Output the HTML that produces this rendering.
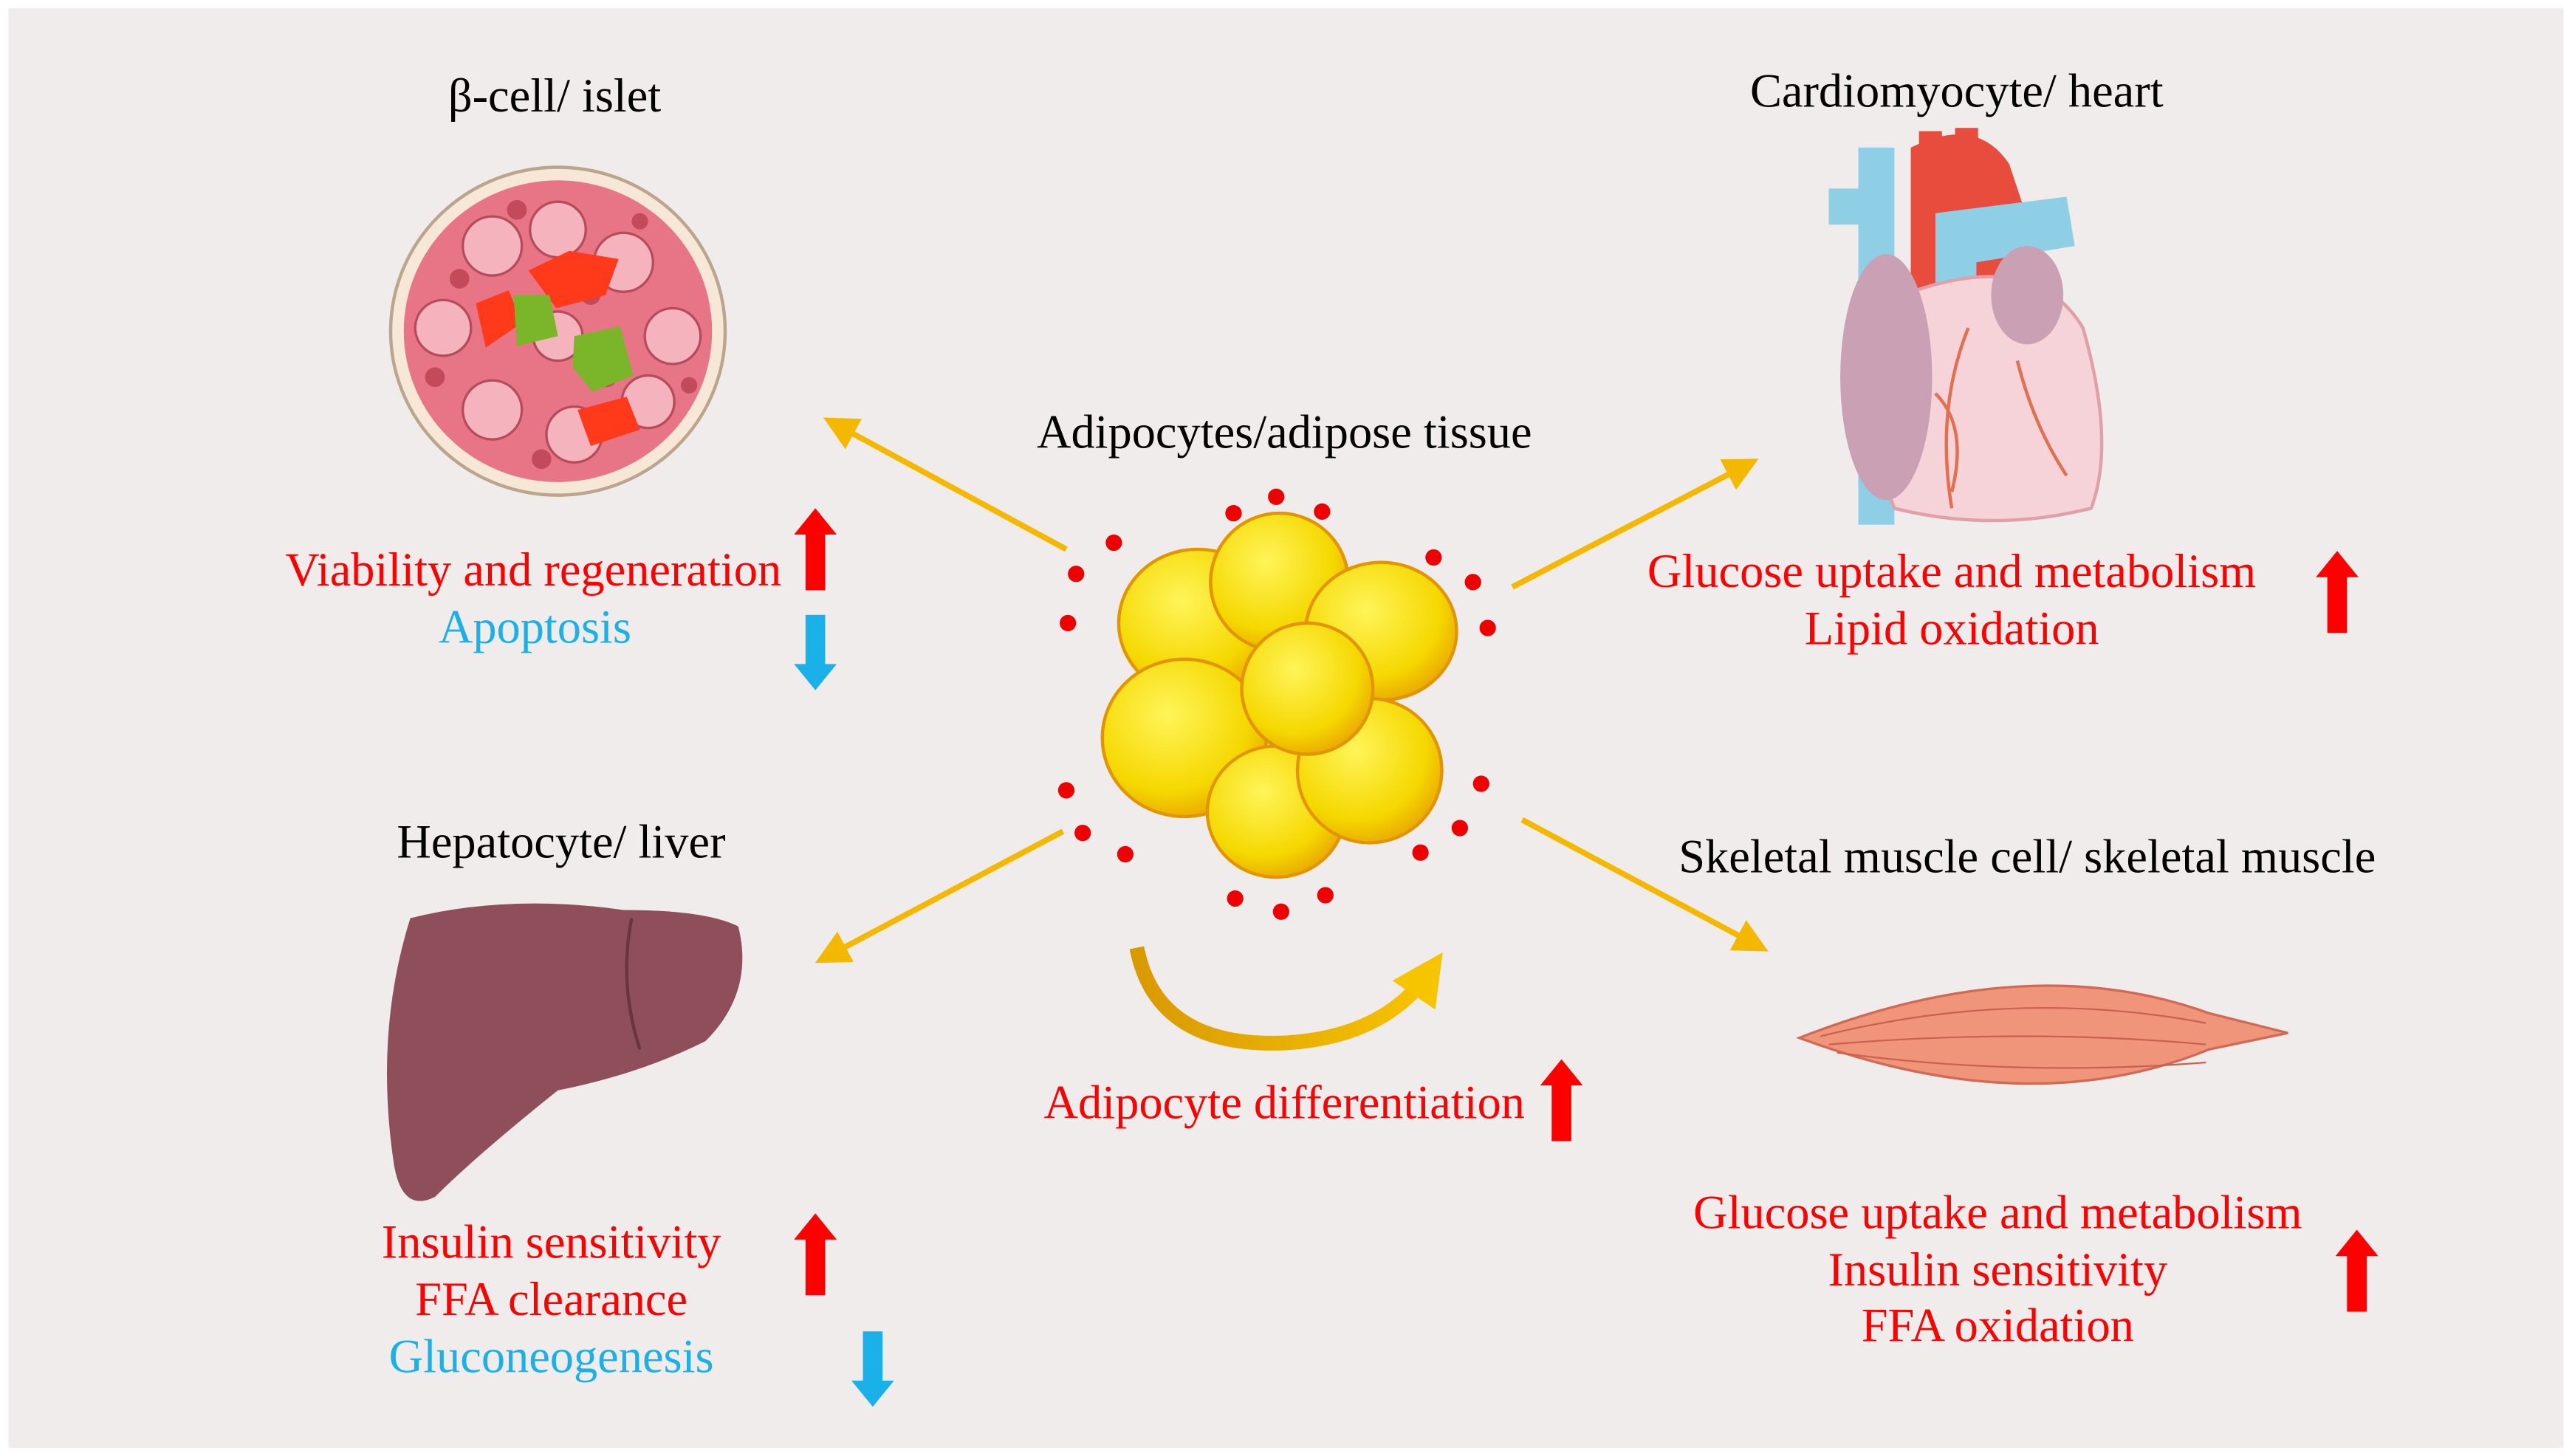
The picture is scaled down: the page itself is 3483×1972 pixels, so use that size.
<!DOCTYPE html>
<html><head><meta charset="utf-8"><style>
html,body{margin:0;padding:0;background:#fff;}
svg{display:block;}
text{font-family:"Liberation Serif",serif;}
</style></head><body>
<svg width="3483" height="1972" viewBox="0 0 1568 888" xmlns="http://www.w3.org/2000/svg">
<defs>
<marker id="ah" markerWidth="6" markerHeight="6" refX="4" refY="3" orient="auto" markerUnits="strokeWidth"><path d="M0,0 L6,3 L0,6 z" fill="#f5b800"/></marker>
<marker id="ah2" markerWidth="3.5" markerHeight="3.5" refX="2" refY="1.75" orient="auto" markerUnits="strokeWidth"><path d="M0,0 L3.5,1.75 L0,3.5 z" fill="#f7c400"/></marker>
<radialGradient id="fat" cx="40%" cy="35%" r="70%"><stop offset="0" stop-color="#fff45a"/><stop offset="0.7" stop-color="#f5d800"/><stop offset="1" stop-color="#e9a400"/></radialGradient>
<linearGradient id="curv" x1="0" x2="1"><stop offset="0" stop-color="#d99a00"/><stop offset="1" stop-color="#f7c400"/></linearGradient>
<g id="up"><rect x="-6" y="10" width="12" height="36" fill="#f00"/><path d="M-13,12 L0,-4 L13,12 z" fill="#f00"/></g>
<g id="down"><rect x="-6" y="0" width="12" height="32" fill="#1ab0e8"/><path d="M-13,30 L0,46 L13,30 z" fill="#1ab0e8"/></g>
</defs>
<rect width="1568" height="888" fill="#fff"/>
<rect x="5" y="5" width="1558" height="878" fill="#f1ecec"/>

<g font-size="29">
<!-- islet -->
<text x="338" y="68" text-anchor="middle">β-cell/ islet</text>
<ellipse cx="340" cy="202" rx="102" ry="100" fill="#f6e7d7" stroke="#bba68d" stroke-width="2"/>
<ellipse cx="340" cy="202" rx="94" ry="92" fill="#e87585"/>
<g fill="#f5b3bd" stroke="#b54b5b" stroke-width="1.5">
<circle cx="300" cy="150" r="18"/><circle cx="340" cy="140" r="17"/><circle cx="380" cy="160" r="18"/><circle cx="270" cy="200" r="17"/><circle cx="410" cy="205" r="17"/><circle cx="300" cy="250" r="18"/><circle cx="350" cy="265" r="17"/><circle cx="395" cy="245" r="16"/><circle cx="340" cy="205" r="15"/></g>
<g fill="#c24a5a"><circle cx="315" cy="128" r="6"/><circle cx="360" cy="180" r="6"/><circle cx="280" cy="170" r="6"/><circle cx="390" cy="135" r="5"/><circle cx="265" cy="230" r="6"/><circle cx="420" cy="235" r="5"/><circle cx="330" cy="280" r="6"/><circle cx="370" cy="230" r="6"/></g>
<path d="M322,165 l25,-12 l30,5 l-8,22 l-30,8z" fill="#ff3a1a"/>
<path d="M290,185 l20,-8 l8,20 l-22,15z" fill="#ff3a1a"/>
<path d="M352,250 l30,-8 l8,20 l-30,10z" fill="#ff3a1a"/>
<path d="M313,180 l22,0 l5,25 l-25,6z" fill="#7bb52a"/>
<path d="M350,205 l28,-6 l8,30 l-25,10 l-12,-15z" fill="#7bb52a"/>

<text x="325" y="357" fill="#f00" text-anchor="middle">Viability and regeneration</text>
<use href="#up" x="497" y="314"/>
<text x="326" y="392" fill="#1ab0e8" text-anchor="middle">Apoptosis</text>
<use href="#down" x="497" y="375"/>

<!-- center -->
<text x="783" y="273" text-anchor="middle">Adipocytes/adipose tissue</text>
<g stroke="#e39500" stroke-width="2" fill="url(#fat)">
<ellipse cx="730" cy="380" rx="48" ry="45"/><ellipse cx="780" cy="355" rx="42" ry="42"/><ellipse cx="842" cy="385" rx="46" ry="42"/>
<ellipse cx="722" cy="450" rx="50" ry="48"/><ellipse cx="778" cy="495" rx="42" ry="40"/><ellipse cx="835" cy="470" rx="44" ry="44"/>
<ellipse cx="797" cy="420" rx="40" ry="40"/></g>
<g fill="#e00"><circle cx="778" cy="303" r="5"/><circle cx="752" cy="313" r="5"/><circle cx="806" cy="312" r="5"/><circle cx="679" cy="331" r="5"/><circle cx="656" cy="350" r="5"/><circle cx="651" cy="380" r="5"/><circle cx="874" cy="340" r="5"/><circle cx="898" cy="355" r="5"/><circle cx="907" cy="383" r="5"/><circle cx="650" cy="482" r="5"/><circle cx="660" cy="508" r="5"/><circle cx="686" cy="521" r="5"/><circle cx="903" cy="478" r="5"/><circle cx="890" cy="505" r="5"/><circle cx="866" cy="520" r="5"/><circle cx="753" cy="548" r="5"/><circle cx="781" cy="556" r="5"/><circle cx="808" cy="546" r="5"/></g>

<g stroke="#f5b800" stroke-width="3.5" fill="none" marker-end="url(#ah)">
<line x1="650" y1="335" x2="508" y2="258"/><line x1="922" y1="358" x2="1066" y2="283"/>
<line x1="648" y1="507" x2="503" y2="584"/><line x1="928" y1="500" x2="1072" y2="577"/></g>

<path d="M693,578 Q705,640 785,636 Q845,632 872,592" stroke="url(#curv)" stroke-width="9" fill="none" marker-end="url(#ah2)"/>
<text x="783" y="682" fill="#f00" text-anchor="middle">Adipocyte differentiation</text>
<use href="#up" x="952" y="650"/>

<!-- heart -->
<text x="1193" y="65" text-anchor="middle">Cardiomyocyte/ heart</text>
<rect x="1133" y="90" width="22" height="230" fill="#8ecfe6"/>
<rect x="1115" y="115" width="30" height="22" fill="#8ecfe6"/>
<path d="M1165,90 q40,-20 60,10 l10,30 l-20,80 l-50,0z" fill="#e74c3c"/>
<rect x="1170" y="80" width="14" height="25" fill="#e74c3c"/><rect x="1192" y="78" width="14" height="25" fill="#e74c3c"/>
<path d="M1180,130 l80,-10 l5,30 l-60,10 l0,40 l-25,0z" fill="#8ecfe6"/>
<path d="M1160,180 q80,-30 110,20 q20,70 5,110 q-60,15 -120,0 q-25,-60 5,-130z" fill="#f6d3d8" stroke="#e0a0a8" stroke-width="2"/>
<ellipse cx="1150" cy="230" rx="28" ry="75" fill="#c9a0b4"/>
<ellipse cx="1236" cy="180" rx="22" ry="30" fill="#c9a0b4"/>
<path d="M1200,200 q-20,50 -10,110 M1230,220 q10,40 30,70 M1180,240 q20,20 10,60" stroke="#e07050" stroke-width="2" fill="none"/>
<text x="1190" y="358" fill="#f00" text-anchor="middle">Glucose uptake and metabolism</text>
<text x="1190" y="393" fill="#f00" text-anchor="middle">Lipid oxidation</text>
<use href="#up" x="1425" y="340"/>

<!-- liver -->
<text x="342" y="523" text-anchor="middle">Hepatocyte/ liver</text>
<path d="M250,560 q60,-15 130,-5 q50,0 70,10 q10,40 -20,70 q-40,20 -90,30 q-50,40 -75,65 q-20,10 -25,-20 q-12,-80 10,-150z" fill="#8e4f5a"/>
<path d="M385,560 q-8,40 5,80" stroke="#6b3540" stroke-width="2" fill="none"/>
<text x="336" y="767" fill="#f00" text-anchor="middle">Insulin sensitivity</text>
<text x="336" y="802" fill="#f00" text-anchor="middle">FFA clearance</text>
<text x="336" y="837" fill="#1ab0e8" text-anchor="middle">Gluconeogenesis</text>
<use href="#up" x="497" y="744"/>
<use href="#down" x="532" y="812"/>

<!-- muscle -->
<text x="1236" y="532" text-anchor="middle">Skeletal muscle cell/ skeletal muscle</text>
<path d="M1097,633 q140,-55 250,-15 l48,12 l-48,10 q-110,45 -250,-7z" fill="#f0957a" stroke="#d06a55" stroke-width="1.5"/>
<path d="M1110,632 q120,-30 235,-8 M1115,637 q120,-10 230,0 M1120,642 q110,15 225,6" stroke="#c96050" stroke-width="1" fill="none"/>
<text x="1218" y="749" fill="#f00" text-anchor="middle">Glucose uptake and metabolism</text>
<text x="1218" y="784" fill="#f00" text-anchor="middle">Insulin sensitivity</text>
<text x="1218" y="818" fill="#f00" text-anchor="middle">FFA oxidation</text>
<use href="#up" x="1437" y="754"/>
</g>
</svg>
</body></html>
